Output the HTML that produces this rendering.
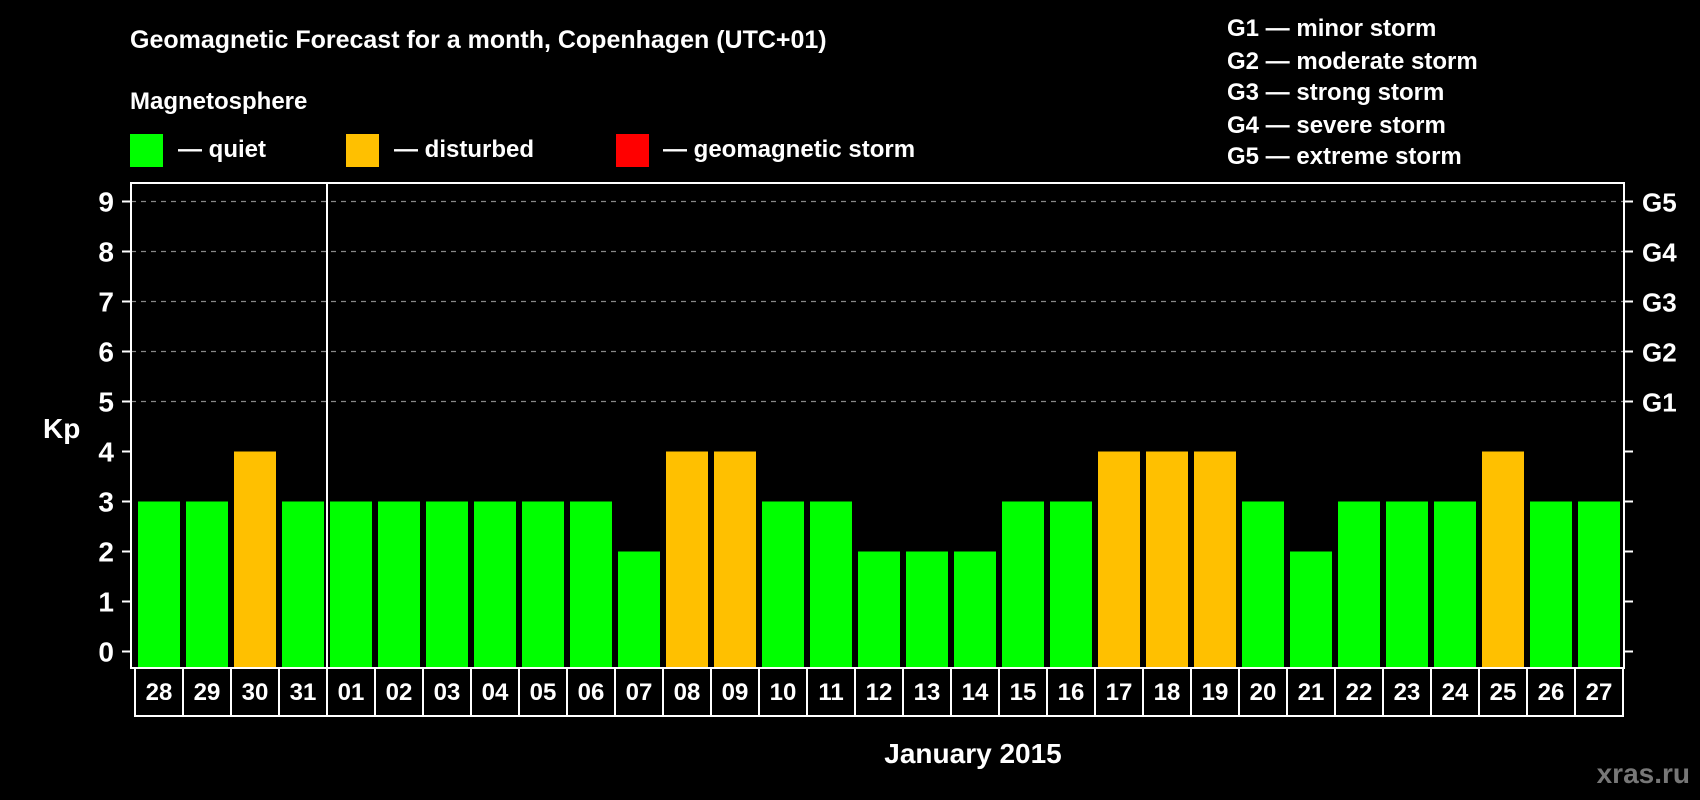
<!DOCTYPE html>
<html><head><meta charset="utf-8"><style>
html,body{margin:0;padding:0;background:#000;}
svg{display:block;font-family:"Liberation Sans",Arial,sans-serif;font-weight:bold;}
</style></head><body>
<svg id="chart" width="1700" height="800" viewBox="0 0 1700 800" xmlns="http://www.w3.org/2000/svg">
<rect width="1700" height="800" fill="#000"/>
<text x="130" y="48" fill="#fff" font-size="25">Geomagnetic Forecast for a month, Copenhagen (UTC+01)</text>
<text x="130" y="109" fill="#fff" font-size="24">Magnetosphere</text>
<g>
<rect x="130" y="134" width="33" height="33" fill="#00ff00"/>
<text x="178" y="157" fill="#fff" font-size="24">— quiet</text></g>
<g>
<rect x="346" y="134" width="33" height="33" fill="#ffc000"/>
<text x="394" y="157" fill="#fff" font-size="24">— disturbed</text></g>
<g>
<rect x="616" y="134" width="33" height="33" fill="#ff0000"/>
<text x="663" y="157" fill="#fff" font-size="24">— geomagnetic storm</text></g>
<g fill="#fff" font-size="24">
<text x="1227" y="36">G1 — minor storm</text>
<text x="1227" y="69">G2 — moderate storm</text>
<text x="1227" y="100">G3 — strong storm</text>
<text x="1227" y="133">G4 — severe storm</text>
<text x="1227" y="164">G5 — extreme storm</text>
</g>
<text x="43" y="438" fill="#fff" font-size="28">Kp</text>
<text x="973" y="763" fill="#fff" font-size="28" text-anchor="middle">January 2015</text>
<text x="1690" y="783" fill="#777" font-size="28" text-anchor="end">xras.ru</text>
<g id="grid"></g><g id="bars"></g><g id="axes"></g><g id="labels"></g>
</svg>
<script>
const days = ["28","29","30","31","01","02","03","04","05","06","07","08","09","10","11","12","13","14","15","16","17","18","19","20","21","22","23","24","25","26","27"];
const kpValues = [3,3,4,3,3,3,3,3,3,3,2,4,4,3,3,2,2,2,3,3,4,4,4,3,2,3,3,3,4,3,3];
const yTicks = [0,1,2,3,4,5,6,7,8,9];
const gLabels = ["","","","","","G1","G2","G3","G4","G5"];
const NS="http://www.w3.org/2000/svg";
const x0=135, cellW=48, y0=651.5, unit=50, plotL=131, plotR=1624, plotT=183, plotB=668;
const xPos=i=>x0+i*cellW;
const yPos=v=>y0-v*unit;
function mk(tag,attrs,parent){const e=document.createElementNS(NS,tag);for(const k in attrs)e.setAttribute(k,attrs[k]);parent.appendChild(e);return e;}
const grid=document.getElementById('grid'),bars=document.getElementById('bars'),axes=document.getElementById('axes'),labels=document.getElementById('labels');
yTicks.forEach((t,i)=>{
  const y=yPos(t);
  if(t>=5){const l=mk('line',{x1:plotL,x2:plotR,y1:y,y2:y,stroke:'#888','stroke-width':1.2,'stroke-dasharray':'5,5'},grid);
  
  }
  mk('line',{x1:122,x2:plotL,y1:y,y2:y,stroke:'#fff','stroke-width':2},axes);
  mk('line',{x1:plotR,x2:1633,y1:y,y2:y,stroke:'#fff','stroke-width':2},axes);
  const tl=mk('text',{x:114,y:y+10,fill:'#fff','font-size':28,'text-anchor':'end'},labels);
  tl.textContent=t;
  
  
  if(gLabels[i]){const g=mk('text',{x:1642,y:y+10,fill:'#fff','font-size':26},labels);
  g.textContent=gLabels[i];
  
  }
});
kpValues.forEach((v,i)=>{
  const c=v>=5?'#ff0000':(v>=4?'#ffc000':'#00ff00');
  const r=mk('rect',{x:xPos(i)+3,y:yPos(v),width:cellW-6,height:plotB-yPos(v)-1,fill:c},bars);
  
  
});
mk('rect',{x:plotL,y:plotT,width:plotR-plotL,height:plotB-plotT,fill:'none',stroke:'#fff','stroke-width':2},axes);
mk('line',{x1:xPos(4),x2:xPos(4),y1:plotT,y2:plotB,stroke:'#fff','stroke-width':2},axes);
mk('rect',{x:x0,y:plotB,width:days.length*cellW,height:48,fill:'none',stroke:'#fff','stroke-width':2},axes);
days.forEach((d,i)=>{
  if(i>0)mk('line',{x1:xPos(i),x2:xPos(i),y1:plotB,y2:plotB+48,stroke:'#fff','stroke-width':2},axes);
  const t=mk('text',{x:xPos(i)+cellW/2,y:plotB+32,fill:'#fff','font-size':24,'text-anchor':'middle'},labels);
  t.textContent=d;
  
  
});
</script>
</body></html>
